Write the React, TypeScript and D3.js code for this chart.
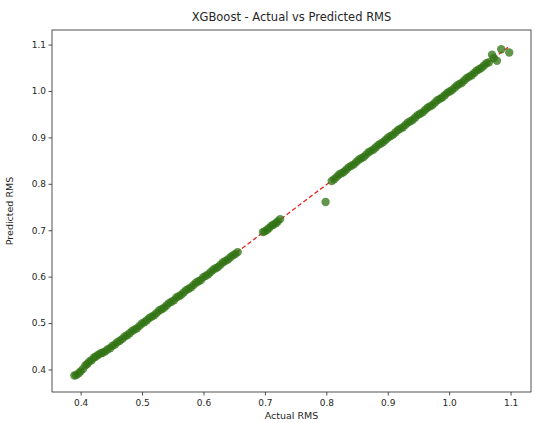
import * as d3 from 'd3';

// values
const actualRMS = [
  0.389, 0.392, 0.396, 0.399, 0.403, 0.407, 0.41, 0.413, 0.417, 0.421, 0.424, 0.428, 0.432, 0.435,
  0.439, 0.443, 0.447, 0.451, 0.455, 0.459, 0.463, 0.467, 0.471, 0.475, 0.479, 0.483, 0.487, 0.491,
  0.495, 0.499, 0.503, 0.507, 0.511, 0.515, 0.519, 0.523, 0.527, 0.531, 0.535, 0.539, 0.543, 0.547,
  0.551, 0.555, 0.559, 0.563, 0.567, 0.571, 0.575, 0.579, 0.583, 0.587, 0.591, 0.595, 0.599, 0.603,
  0.607, 0.611, 0.615, 0.619, 0.623, 0.627, 0.631, 0.635, 0.639, 0.643, 0.647, 0.651, 0.655,
  0.696, 0.699, 0.703, 0.706, 0.71, 0.713, 0.717, 0.72, 0.724,
  0.798,
  0.808, 0.812, 0.816, 0.82, 0.824, 0.828, 0.832, 0.836, 0.84, 0.844, 0.848, 0.852, 0.856, 0.86,
  0.864, 0.868, 0.872, 0.876, 0.88, 0.884, 0.888, 0.892, 0.896, 0.9, 0.904, 0.908, 0.912, 0.916,
  0.92, 0.924, 0.928, 0.932, 0.936, 0.94, 0.944, 0.948, 0.952, 0.956, 0.96, 0.964, 0.968, 0.972,
  0.976, 0.98, 0.984, 0.988, 0.992, 0.996, 1.0, 1.004, 1.008, 1.012, 1.016, 1.02, 1.024, 1.028,
  1.032, 1.036, 1.04, 1.044, 1.048, 1.052, 1.056, 1.06, 1.064,
  1.069, 1.072, 1.077, 1.084, 1.097,
];

const predictedRMS = [
  0.388, 0.389, 0.393, 0.397, 0.402, 0.41, 0.413, 0.418, 0.421, 0.427, 0.429, 0.433, 0.436, 0.437,
  0.44, 0.444, 0.447, 0.452, 0.455, 0.46, 0.463, 0.467, 0.472, 0.475, 0.479, 0.484, 0.487, 0.49,
  0.495, 0.5, 0.503, 0.507, 0.512, 0.515, 0.518, 0.523, 0.528, 0.531, 0.534, 0.539, 0.544, 0.547,
  0.55, 0.556, 0.559, 0.562, 0.567, 0.572, 0.575, 0.578, 0.583, 0.588, 0.591, 0.594, 0.6, 0.603,
  0.606, 0.611, 0.616, 0.619, 0.622, 0.627, 0.632, 0.635, 0.638, 0.643, 0.647, 0.65, 0.654,
  0.697, 0.699, 0.702, 0.706, 0.711, 0.713, 0.716, 0.72, 0.725,
  0.762,
  0.807, 0.811, 0.816, 0.821, 0.824, 0.827, 0.832, 0.837, 0.84, 0.843, 0.848, 0.853, 0.856, 0.859,
  0.864, 0.869, 0.872, 0.875, 0.88, 0.885, 0.888, 0.891, 0.896, 0.901, 0.904, 0.907, 0.912, 0.917,
  0.92, 0.923, 0.928, 0.933, 0.936, 0.939, 0.944, 0.949, 0.952, 0.955, 0.96, 0.965, 0.968, 0.971,
  0.976, 0.981, 0.984, 0.987, 0.992, 0.997, 1.0, 1.003, 1.008, 1.013, 1.016, 1.019, 1.024, 1.029,
  1.032, 1.035, 1.04, 1.045, 1.048, 1.051, 1.056, 1.061, 1.063,
  1.079, 1.072, 1.066, 1.091, 1.084,
];

const xTicks = [0.4, 0.5, 0.6, 0.7, 0.8, 0.9, 1.0, 1.1];
const yTicks = [0.4, 0.5, 0.6, 0.7, 0.8, 0.9, 1.0, 1.1];

const chartTitle = 'XGBoost - Actual vs Predicted RMS';
const xTitle = 'Actual RMS';
const yTitle = 'Predicted RMS';

export default function App() {
  const width = 535;
  const height = 423;
  const margin = { top: 30, right: 4, bottom: 31, left: 52 };
  const innerW = width - margin.left - margin.right;
  const innerH = height - margin.top - margin.bottom;

  const allValues = actualRMS.concat(predictedRMS);
  const [lo, hi] = d3.extent(allValues) as [number, number];
  const pad = (hi - lo) * 0.05;

  const x = d3.scaleLinear().domain([lo - pad, hi + pad]).range([0, innerW]);
  const y = d3.scaleLinear().domain([lo - pad, hi + pad]).range([innerH, 0]);

  const points = actualRMS.map((a, i) => [a, predictedRMS[i]] as [number, number]);
  const [aMin, aMax] = d3.extent(actualRMS) as [number, number];
  const line = d3.line<[number, number]>().x(d => x(d[0])).y(d => y(d[1]));
  const idealPath = line([[aMin, aMin], [aMax, aMax]]) || '';

  const font = 'DejaVu Sans, sans-serif';
  const ink = '#262626';

  return (
    <svg
      width={width}
      height={height}
      style={{ position: 'absolute', left: 0, top: 0, background: '#fff' }}
      fontFamily={font}
    >
      <text x={margin.left + innerW / 2} y={21} textAnchor="middle" fontSize={11.5} fill={ink}>
        {chartTitle}
      </text>
      <g transform={`translate(${margin.left},${margin.top})`}>
        <path d={idealPath} fill="none" stroke="#e8261f" strokeWidth={1.3} strokeDasharray="4.5,2.5" />
        {points.map((d, i) => (
          <circle key={i} cx={x(d[0])} cy={y(d[1])} r={4.2} fill="#2f7312" fillOpacity={0.75} />
        ))}
        <rect x={0} y={0} width={innerW} height={innerH} fill="none" stroke={ink} strokeWidth={0.8} />
        {xTicks.map(t => (
          <g key={t} transform={`translate(${x(t)},${innerH})`}>
            <line y2={3.5} stroke={ink} strokeWidth={0.8} />
            <text y={14} textAnchor="middle" fontSize={9} fill={ink}>{d3.format('.1f')(t)}</text>
          </g>
        ))}
        {yTicks.map(t => (
          <g key={t} transform={`translate(0,${y(t)})`}>
            <line x2={-3.5} stroke={ink} strokeWidth={0.8} />
            <text x={-6} dy="0.32em" textAnchor="end" fontSize={9} fill={ink}>{d3.format('.1f')(t)}</text>
          </g>
        ))}
        <text x={innerW / 2} y={innerH + 27} textAnchor="middle" fontSize={9.5} fill={ink}>
          {xTitle}
        </text>
        <text
          transform={`translate(${-39},${innerH / 2}) rotate(-90)`}
          textAnchor="middle"
          fontSize={9.5}
          fill={ink}
        >
          {yTitle}
        </text>
      </g>
    </svg>
  );
}
